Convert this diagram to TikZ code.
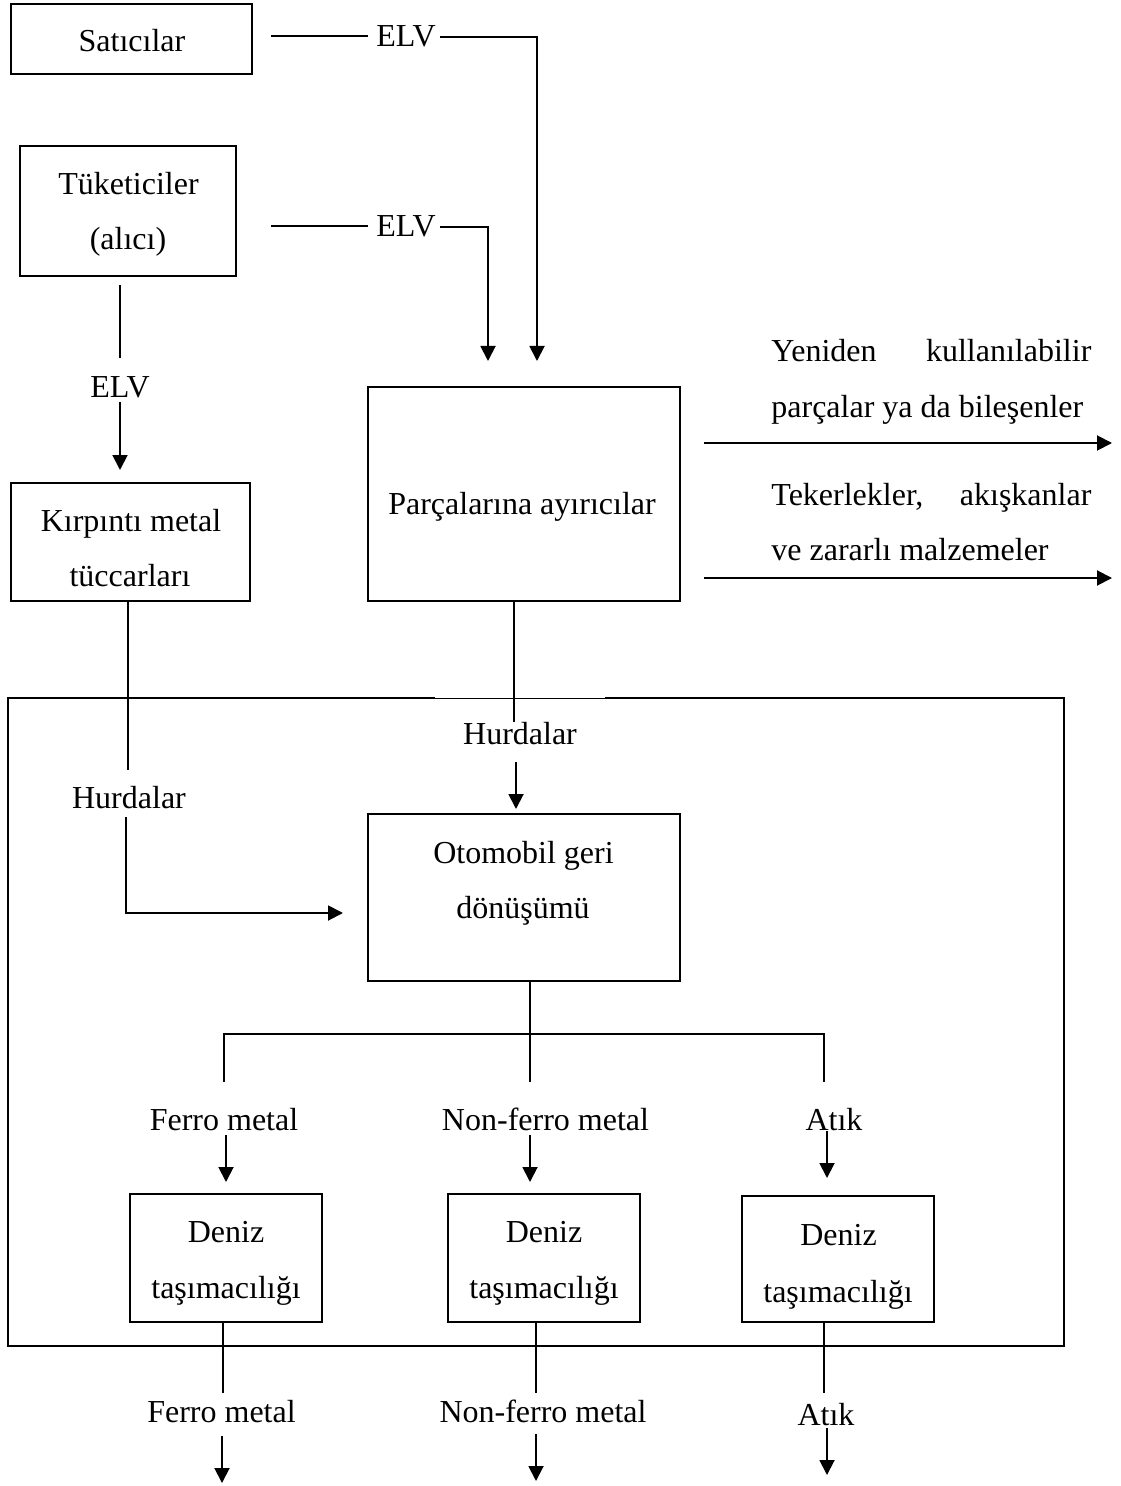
\documentclass[tikz,border=0pt]{standalone}
\usepackage{fontspec}
\setmainfont{Liberation Serif}
\usetikzlibrary{arrows.meta}
\begin{document}
\begin{tikzpicture}[x=0.5pt,y=-0.5pt,
  box/.style={draw,line width=1pt,inner sep=0pt},
  txt/.style={inner sep=0pt,anchor=base,font=\fontsize{16}{27.5}\selectfont},
  conn/.style={line width=0.95pt},
  arr/.style={conn,-{Triangle[length=7.5pt,width=7.5pt]}}]
\useasboundingbox (0,0) rectangle (1120,1486);

% ---- boxes ----
\node[box,minimum width=120.5pt,minimum height=35pt] (sat) at (131.5,39) {};
\node[box,minimum width=108pt,minimum height=65pt] (tuk) at (128,211) {};
\node[box,minimum width=119.5pt,minimum height=59pt] (kirp) at (130.5,542) {};
\node[box,minimum width=156pt,minimum height=107pt] (parc) at (524,494) {};
\node[box,minimum width=156pt,minimum height=83.5pt] (oto) at (524,897.5) {};
\node[box,minimum width=96pt,minimum height=64pt] (den1) at (226,1258) {};
\node[box,minimum width=96pt,minimum height=64pt] (den2) at (544,1258) {};
\node[box,minimum width=96pt,minimum height=63pt] (den3) at (838,1259) {};

% ---- box texts ----
\node[txt] (sat-t) at (132,52) {Satıcılar};
\node[txt] (tuk-t1) at (128.5,195) {Tüketiciler};
\node[txt] (tuk-t2) at (128,250) {(alıcı)};
\node[txt] (kirp-t1) at (131,531) {Kırpıntı metal};
\node[txt] (kirp-t2) at (130,586) {tüccarları};
\node[txt] (parc-t) at (522,514) {Parçalarına ayırıcılar};
\node[txt] (oto-t1) at (523.5,863) {Otomobil geri};
\node[txt] (oto-t2) at (523,918) {dönüşümü};
\node[txt] (den1-t1) at (226,1242) {Deniz};
\node[txt] (den1-t2) at (226,1298) {taşımacılığı};
\node[txt] (den2-t1) at (544,1242) {Deniz};
\node[txt] (den2-t2) at (544,1298) {taşımacılığı};
\node[txt] (den3-t1) at (838.5,1245) {Deniz};
\node[txt] (den3-t2) at (838,1302) {taşımacılığı};

% ---- recycling area frame ----
\draw[line width=1pt] (435,698) -- (8,698) -- (8,1346) -- (1064,1346) -- (1064,698) -- (605,698);
\draw[line width=0.5pt] (435,698) -- (605,698);

% ---- ELV flows into the dismantlers ----
\node[txt] (elv1) at (406,47) {ELV};
\node[txt] (elv2) at (406,237) {ELV};
\coordinate (e1) at (271,36);
\coordinate (e2) at (271,226);
\coordinate (p1) at (537,361);
\coordinate (p2) at (488,361);
\draw[conn,shorten >=4pt] (e1) -- (e1 -| elv1.west);
\draw[arr,shorten <=2pt] (elv1.east) -| (p1);
\draw[conn,shorten >=4pt] (e2) -- (e2 -| elv2.west);
\draw[arr,shorten <=2pt] (elv2.east) -| (p2);

% ---- consumers to scrap metal dealers ----
\node[txt] (elv3) at (120,398) {ELV};
\coordinate (t1) at (120,285);
\coordinate (t2) at (120,358);
\coordinate (t3) at (120,402);
\coordinate (t4) at (120,470);
\draw[conn] (t1) -- (t2);
\draw[arr] (t3) -- (t4);

% ---- outputs of the dismantlers ----
\node[txt,anchor=base west] (out1a) at (771,362) {\hbox to 160pt{Yeniden\hfill kullanılabilir}};
\node[txt,anchor=base west] (out1b) at (771,417) {parçalar ya da bileşenler};
\node[txt,anchor=base west] (out2a) at (771,505) {\hbox to 160pt{Tekerlekler,\hfill akışkanlar}};
\node[txt,anchor=base west] (out2b) at (771,560) {ve zararlı malzemeler};
\coordinate (r1s) at (704,443);
\coordinate (r1e) at (1112,443);
\coordinate (r2s) at (704,578);
\coordinate (r2e) at (1112,578);
\draw[arr] (r1s) -- (r1e);
\draw[arr] (r2s) -- (r2e);

% ---- scrap (Hurdalar) flows into car recycling ----
\node[txt] (hl) at (129,808) {Hurdalar};
\node[txt] (hr) at (520,744) {Hurdalar};
\coordinate (k1) at (128,770);
\coordinate (k2) at (126,817);
\coordinate (k3) at (126,913);
\coordinate (k4) at (343,913);
\draw[conn] (kirp.south -| k1) -- (k1);
\draw[arr] (k2) -- (k3) -- (k4);
\coordinate (q1) at (514,722);
\coordinate (q2) at (516,762);
\coordinate (q3) at (516,809);
\draw[conn] (parc.south -| q1) -- (q1);
\draw[arr] (q2) -- (q3);

% ---- split after car recycling ----
\coordinate (b0) at (530,1082);
\coordinate (bl) at (224,1034);
\coordinate (br) at (824,1034);
\coordinate (bl2) at (224,1082);
\coordinate (br2) at (824,1082);
\draw[conn] (oto.south -| b0) -- (b0);
\draw[conn] (bl2) -- (bl) -- (br) -- (br2);

\node[txt] (fm1) at (224,1130) {Ferro metal};
\node[txt] (nf1) at (545.5,1130) {Non-ferro metal};
\node[txt] (at1) at (834,1130) {Atık};
\coordinate (f1s) at (226,1135);
\coordinate (f1e) at (226,1182);
\coordinate (n1s) at (530,1135);
\coordinate (n1e) at (530,1182);
\coordinate (a1s) at (827,1131);
\coordinate (a1e) at (827,1178);
\draw[arr] (f1s) -- (f1e);
\draw[arr] (n1s) -- (n1e);
\draw[arr] (a1s) -- (a1e);

% ---- after sea transport ----
\coordinate (d1) at (223,1393);
\coordinate (d2) at (536,1393);
\coordinate (d3) at (824,1393);
\draw[conn] (den1.south -| d1) -- (d1);
\draw[conn] (den2.south -| d2) -- (d2);
\draw[conn] (den3.south -| d3) -- (d3);

\node[txt] (fm2) at (221.5,1422) {Ferro metal};
\node[txt] (nf2) at (543,1422) {Non-ferro metal};
\node[txt] (at2) at (826,1425) {Atık};
\coordinate (f2s) at (222,1436);
\coordinate (f2e) at (222,1483);
\coordinate (n2s) at (536,1434);
\coordinate (n2e) at (536,1481);
\coordinate (a2s) at (827,1428);
\coordinate (a2e) at (827,1475);
\draw[arr] (f2s) -- (f2e);
\draw[arr] (n2s) -- (n2e);
\draw[arr] (a2s) -- (a2e);
\end{tikzpicture}
\end{document}
